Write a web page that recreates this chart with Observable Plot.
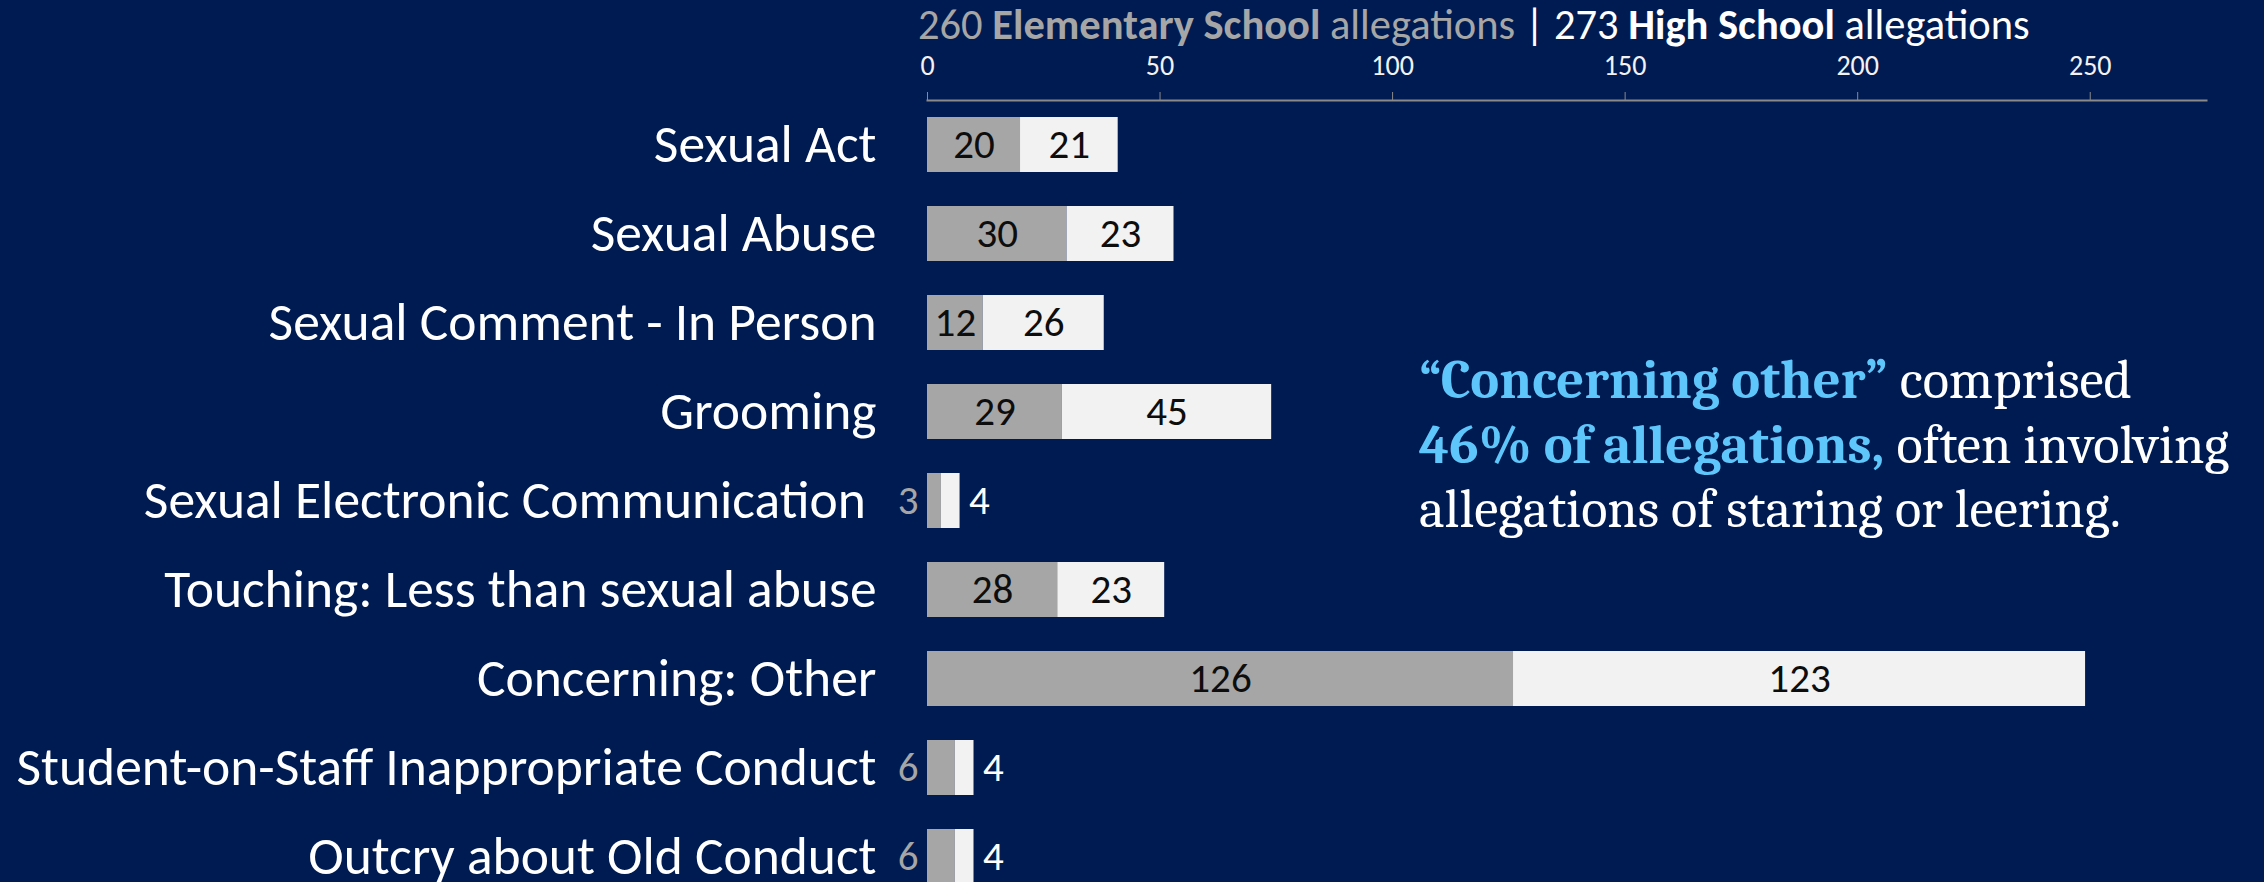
<!DOCTYPE html>
<html><head><meta charset="utf-8">
<script src="https://cdn.jsdelivr.net/npm/d3@7"></script>
<script src="https://cdn.jsdelivr.net/npm/@observablehq/plot@0.6"></script>
<style>
html,body{margin:0;padding:0;background:#001b51;overflow:hidden;width:2264px;height:882px;}
#wrap{position:relative;width:2264px;height:882px;}
#chart{position:absolute;left:0;top:0;}
#title{position:absolute;left:918px;top:4px;font-family:Carlito,Calibri,"Liberation Sans Narrow",Lato,sans-serif;font-size:42.5px;line-height:1;white-space:nowrap;color:#a6a6a6}
#title b{font-weight:bold}
#title .hs{color:#ffffff}
#note{position:absolute;left:1419px;top:349px;font-family:Cambria,"Liberation Serif",serif;font-size:54.5px;line-height:64.5px;color:#ffffff;white-space:nowrap}
#note .b{color:#5ec6fa;font-weight:bold}
</style></head>
<body><div id="wrap"><div id="chart"></div>
<div id="title">260 <b>Elementary School</b> allegations <span class="hs">| 273 <b>High School</b> allegations</span></div>
<div id="note"><span class="b">“Concerning other”</span> comprised<br><span class="b">46% of allegations,</span> often involving<br>allegations of staring or leering.</div>
</div>
<script>
const categories = [
  "Sexual Act",
  "Sexual Abuse",
  "Sexual Comment - In Person",
  "Grooming",
  "Sexual Electronic Communication",
  "Touching: Less than sexual abuse",
  "Concerning: Other",
  "Student-on-Staff Inappropriate Conduct",
  "Outcry about Old Conduct"
];
const elementary = [20, 30, 12, 29, 3, 28, 126, 6, 6];
const highSchool = [21, 23, 26, 45, 4, 23, 123, 4, 4];
const levels = ["Elementary School", "High School"];
const xTicks = [0, 50, 100, 150, 200, 250];

const rows = categories.flatMap((c, i) => [
  {category: c, level: levels[0], value: elementary[i], total: elementary[i] + highSchool[i]},
  {category: c, level: levels[1], value: highSchool[i], total: elementary[i] + highSchool[i]}
]);
const inside = rows.filter(d => d.value >= 10);
const smallEl = rows.filter(d => d.value < 10 && d.level === levels[0]);
const smallHs = rows.filter(d => d.value < 10 && d.level === levels[1]);

const FONT = 'Carlito, Calibri, "Liberation Sans Narrow", Lato, sans-serif';

const chart = Plot.plot({
  width: 2264,
  height: 882,
  marginTop: 100,
  marginLeft: 927,
  marginRight: 58,
  marginBottom: 0,
  style: {background: "transparent", fontFamily: FONT, overflow: "visible"},
  x: {domain: [0, 275]},
  y: {domain: categories, range: [83, 918], padding: 0.382},
  color: {domain: levels, range: ["#a6a6a6", "#f2f2f2"]},
  marks: [
    Plot.frame({anchor: "top", stroke: "#8a8a8a", strokeWidth: 2}),
    Plot.axisX({ticks: xTicks, anchor: "top", tickSize: 9, tickPadding: 17, fontSize: 28, stroke: "#8a8a8a", fill: "#f2f2f2", label: null}),
    Plot.axisY({anchor: "left", tickSize: 0, tickPadding: 51, fontSize: 53.5, fill: "#ffffff", label: null,
      tickFormat: d => d === "Sexual Electronic Communication" ? d + "\u2009" : d}),
    Plot.barX(rows, Plot.stackX({x: "value", y: "category", fill: "level"})),
    Plot.text(inside, Plot.stackX({x: "value", y: "category", z: "level", text: d => String(d.value), fill: "#0d0d0d", fontSize: 41})),
    Plot.text(smallEl, {x: 0, y: "category", text: d => String(d.value), textAnchor: "end", dx: -9, fill: "#a6a6a6", fontSize: 41}),
    Plot.text(smallHs, {x: "total", y: "category", text: d => String(d.value), textAnchor: "start", dx: 9, fill: "#ffffff", fontSize: 41})
  ]
});
document.getElementById("chart").appendChild(chart);
</script>
</body></html>
